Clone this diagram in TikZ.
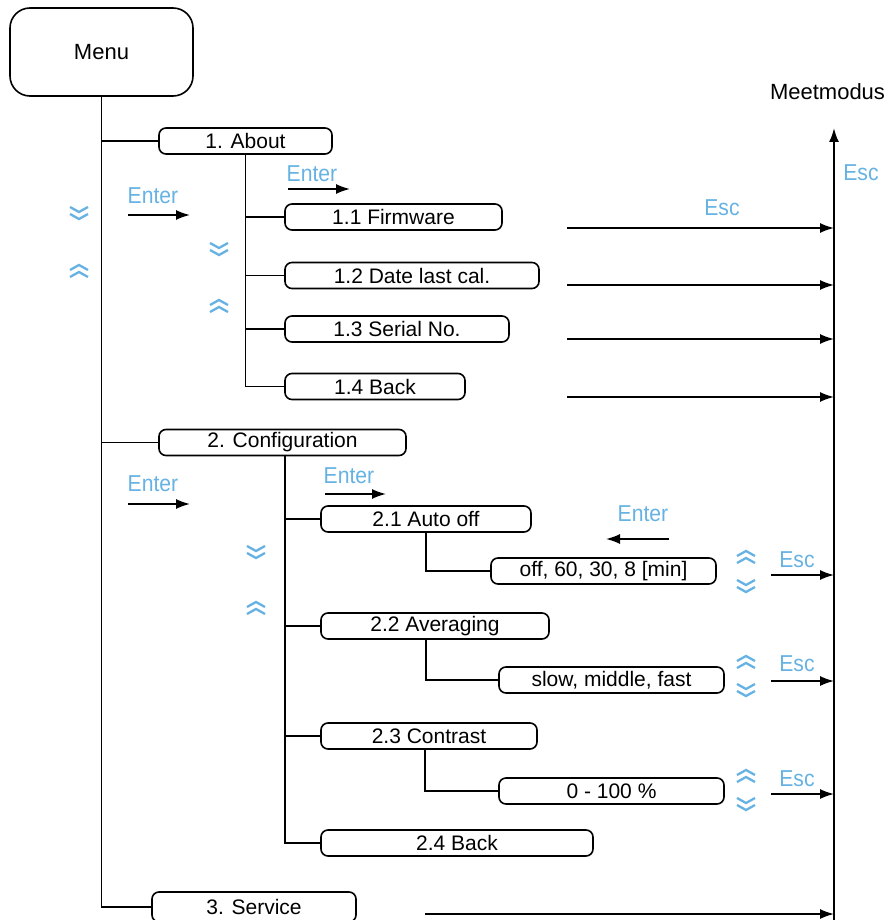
\documentclass[tikz,border=0pt]{standalone}
\usepackage{fontspec}
\setmainfont{Liberation Sans}
\newfontfamily\keyfont{Liberation Sans}[FakeStretch=0.92]
\usepackage{tikz}
\usetikzlibrary{arrows.meta}
\usepackage{xcolor}
\definecolor{keyblue}{RGB}{102,178,226}

\tikzset{
  item/.style={draw, line width=1.6pt, rounded corners=7pt, minimum height=26pt, inner sep=0pt, font=\fontsize{21}{24}\selectfont},
  tree/.style={line width=1.6pt},
  flow/.style={line width=1.6pt, -{Latex[length=14pt,width=10pt]}},
  key/.style={text=keyblue, font=\keyfont\fontsize{23}{25}\selectfont, inner sep=0pt},
  chev/.style={draw=keyblue, line width=2.3pt}
}
\newcommand{\chevdn}[2]{%
  \draw[chev] (#1-9,#2-6) -- (#1,#2-1) -- (#1+9,#2-6);
  \draw[chev] (#1-9,#2+1) -- (#1,#2+6) -- (#1+9,#2+1);}
\newcommand{\chevupw}[2]{%
  \draw[chev] (#1-9,#2-1) -- (#1,#2-6) -- (#1+9,#2-1);
  \draw[chev] (#1-9,#2+6) -- (#1,#2+1) -- (#1+9,#2+6);}

\begin{document}
\begin{tikzpicture}[x=1pt, y=-1pt]
  \useasboundingbox (0,0) rectangle (888,920);

  % menu boxes
  \node (menu) at (101.5,52) [item, rounded corners=20pt, minimum width=183pt, minimum height=88pt, font=\fontsize{22}{24}\selectfont] {Menu};
  \node (about) at (245.5,141) [item, minimum width=173pt] {1. About};
  \node (fw) at (393.5,217) [item, minimum width=217pt] {1.1 Firmware};
  \node (date) at (412,275.5) [item, minimum width=254pt] {1.2 Date last cal.};
  \node (serial) at (397,329) [item, minimum width=224pt] {1.3 Serial No.};
  \node (backa) at (375,386.5) [item, minimum width=180pt] {1.4 Back};
  \node (config) at (282.5,442.5) [item, minimum width=247pt] {2. Configuration};
  \node (auto) at (426,519) [item, minimum width=210pt] {2.1 Auto off};
  \node (autoval) at (603.5,571) [item, minimum width=225pt] {off, 60, 30, 8 [min]};
  \node (avg) at (435,626) [item, minimum width=228pt] {2.2 Averaging};
  \node (avgval) at (611.5,680) [item, minimum width=225pt] {slow, middle, fast};
  \node (contr) at (429,736) [item, minimum width=216pt] {2.3 Contrast};
  \node (contrval) at (611.5,791) [item, minimum width=225pt] {0 - 100 \%};
  \node (backb) at (457,843) [item, minimum width=272pt] {2.4 Back};
  \node (service) at (254,907) [item, minimum width=204pt, minimum height=30pt] {3. Service};
  \node (mode) at (827.5,92) [font=\fontsize{22}{24}\selectfont] {Meetmodus};

  % tree lines
  \draw[tree] (menu.south) |- (about.west);
  \draw[tree] (menu.south) |- (config.west);
  \draw[tree] (menu.south) |- (service.west);
  \foreach \n in {fw, date, serial, backa}
    \draw[tree] (about.south) |- (\n.west);
  \coordinate (cfg) at ([xshift=2.5pt]config.south);
  \foreach \n in {auto, avg, contr, backb}
    \draw[tree] (cfg) |- (\n.west);
  \draw[tree] (auto.south) |- (autoval.west);
  \draw[tree] (avg.south -| auto.south) |- (avgval.west);
  \draw[tree] ([xshift=-1pt]contr.south -| auto.south) |- (contrval.west);

  % measuring mode line
  \coordinate (mtop) at (834,128);
  \coordinate (mbot) at (834,925);
  \draw[flow, line width=2pt] (mbot) -- (mtop);
  \node at (861,173) [key] {Esc};

  % esc arrows
  \foreach \y in {228,285,339,397}
    \draw[flow] (567,\y) -- (mtop |- 0,\y);
  \node at (722,208) [key] {Esc};
  \draw[flow] (425,914) -- (mtop |- 0,914);
  \foreach \y/\l in {575/560,681/664,794/779} {
    \draw[flow] (771,\y) -- (mtop |- 0,\y);
    \node at (797,\l) [key] {Esc};
  }

  % enter arrows
  \node at (153,196) [key] {Enter};
  \draw[flow] (128,215) -- (190,215);
  \node at (312,174) [key] {Enter};
  \draw[flow] (288,189) -- (350,189);
  \node at (153,484) [key] {Enter};
  \draw[flow] (128,504) -- (190,504);
  \node at (349,476) [key] {Enter};
  \draw[flow] (325,494) -- (386,494);
  \node at (643,514) [key] {Enter};
  \draw[flow] (669,539) -- (606,539);

  % scroll chevrons
  \chevdn{79}{213}
  \chevupw{79}{271}
  \chevdn{219}{249}
  \chevupw{219}{306}
  \chevdn{256}{552}
  \chevupw{256}{608}
  \foreach \y in {557,662,776} {\chevupw{746}{\y}}
  \foreach \y in {586,690,804} {\chevdn{746}{\y}}
\end{tikzpicture}
\end{document}
